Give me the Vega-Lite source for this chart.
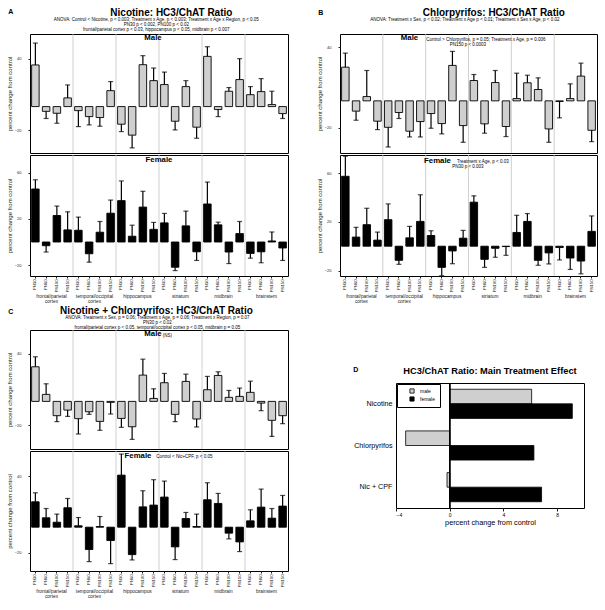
{
"$schema": "https://vega.github.io/schema/vega-lite/v6.json",
"padding": {"left": 6, "top": 7, "right": 0, "bottom": 0},
"background": "white",
"config": {
  "font": "Liberation Sans",
  "view": {"stroke": "black", "strokeWidth": 1},
  "axis": {"grid": false, "domain": false, "labelFontSize": 4, "labelColor": "#222", "titleFontSize": 6, "titleFontWeight": "normal", "titleColor": "#222", "tickColor": "#222", "tickSize": 2, "labelPadding": 1},
  "axisY": {"labelPadding": 7, "titlePadding": 1.5},
  "title": {"color": "black", "subtitleColor": "black", "font": "Liberation Sans", "subtitleFont": "Liberation Sans"}
},
"datasets": {
  "regions": [{"region": "frontal/parietal cortex"}, {"region": "temporal/occipital cortex"}, {"region": "hippocampus"}, {"region": "striatum"}, {"region": "midbrain"}, {"region": "brainstem"}],
  "A": [
    {"sex":"M","bar":"fp PN30","v":35,"e":53.4},{"sex":"M","bar":"fp PN60","v":-4,"e":-10},{"sex":"M","bar":"fp PN100","v":-5.6,"e":-14},{"sex":"M","bar":"fp PN150","v":7.3,"e":18.2},
    {"sex":"M","bar":"to PN30","v":-3.4,"e":-16.8},{"sex":"M","bar":"to PN60","v":-8.4,"e":-15.4},{"sex":"M","bar":"to PN100","v":-9.2,"e":-16.5},{"sex":"M","bar":"to PN150","v":13.4,"e":21},
    {"sex":"M","bar":"hc PN30","v":-14.8,"e":-21},{"sex":"M","bar":"hc PN60","v":-24,"e":-34.7},{"sex":"M","bar":"hc PN100","v":35.2,"e":42.8},{"sex":"M","bar":"hc PN150","v":21.8,"e":32.4},
    {"sex":"M","bar":"st PN30","v":18.5,"e":29},{"sex":"M","bar":"st PN60","v":-12.3,"e":-19.6},{"sex":"M","bar":"st PN100","v":16.8,"e":21.8},{"sex":"M","bar":"st PN150","v":-17.3,"e":-26.6},
    {"sex":"M","bar":"mb PN30","v":42.2,"e":50.3},{"sex":"M","bar":"mb PN60","v":-2.5,"e":-8.4},{"sex":"M","bar":"mb PN100","v":12.9,"e":16},{"sex":"M","bar":"mb PN150","v":22.7,"e":40.3},
    {"sex":"M","bar":"bs PN30","v":10,"e":16.8},{"sex":"M","bar":"bs PN60","v":12.6,"e":23.5},{"sex":"M","bar":"bs PN100","v":1.7,"e":12.9},{"sex":"M","bar":"bs PN150","v":-5.9,"e":-10},
    {"sex":"F","bar":"fp PN30","v":46,"e":54},{"sex":"F","bar":"fp PN60","v":-3.2,"e":-8.7},{"sex":"F","bar":"fp PN100","v":23,"e":31.2},{"sex":"F","bar":"fp PN150","v":10.5,"e":26.2},
    {"sex":"F","bar":"to PN30","v":10.2,"e":21.6},{"sex":"F","bar":"to PN60","v":-10.2,"e":-17.5},{"sex":"F","bar":"to PN100","v":8.5,"e":17.8},{"sex":"F","bar":"to PN150","v":25,"e":36.4},
    {"sex":"F","bar":"hc PN30","v":35.9,"e":53},{"sex":"F","bar":"hc PN60","v":5,"e":14.6},{"sex":"F","bar":"hc PN100","v":30.3,"e":44},{"sex":"F","bar":"hc PN150","v":11,"e":17},
    {"sex":"F","bar":"st PN30","v":16.6,"e":24.8},{"sex":"F","bar":"st PN60","v":-21.9,"e":-24.8},{"sex":"F","bar":"st PN100","v":14,"e":26.8},{"sex":"F","bar":"st PN150","v":-8.5,"e":-16},
    {"sex":"F","bar":"mb PN30","v":33,"e":52},{"sex":"F","bar":"mb PN60","v":14.9,"e":17.2},{"sex":"F","bar":"mb PN100","v":-8.7,"e":-18.7},{"sex":"F","bar":"mb PN150","v":7.3,"e":17.8},
    {"sex":"F","bar":"bs PN30","v":-9.9,"e":-14},{"sex":"F","bar":"bs PN60","v":-8.5,"e":-18},{"sex":"F","bar":"bs PN100","v":0.9,"e":8.7},{"sex":"F","bar":"bs PN150","v":-5.2,"e":-16}
  ],
  "B": [
    {"sex":"M","bar":"fp PN30","v":25.2,"e":35.7},{"sex":"M","bar":"fp PN60","v":-7.7,"e":-14.5},{"sex":"M","bar":"fp PN100","v":3.2,"e":22.7},{"sex":"M","bar":"fp PN150","v":-15.2,"e":-21.5},
    {"sex":"M","bar":"to PN30","v":-19.8,"e":-34.5},{"sex":"M","bar":"to PN60","v":-8.7,"e":-13.2},{"sex":"M","bar":"to PN100","v":-22.7,"e":-27},{"sex":"M","bar":"to PN150","v":-15.5,"e":-27},
    {"sex":"M","bar":"hc PN30","v":-9.5,"e":-20.5},{"sex":"M","bar":"hc PN60","v":-17,"e":-24.7},{"sex":"M","bar":"hc PN100","v":26.5,"e":37},{"sex":"M","bar":"hc PN150","v":-18.5,"e":-31},
    {"sex":"M","bar":"st PN30","v":15.2,"e":19.7},{"sex":"M","bar":"st PN60","v":-17.2,"e":-24.2},{"sex":"M","bar":"st PN100","v":13.7,"e":22.7},{"sex":"M","bar":"st PN150","v":-19.2,"e":-26.7},
    {"sex":"M","bar":"mb PN30","v":1.7,"e":20.7},{"sex":"M","bar":"mb PN60","v":13.5,"e":19.2},{"sex":"M","bar":"mb PN100","v":8.5,"e":17.2},{"sex":"M","bar":"mb PN150","v":-21,"e":-31},
    {"sex":"M","bar":"bs PN30","v":-0.5,"e":-12.7},{"sex":"M","bar":"bs PN60","v":1.7,"e":12.7},{"sex":"M","bar":"bs PN100","v":18.5,"e":28.2},{"sex":"M","bar":"bs PN150","v":-22,"e":-30.5},
    {"sex":"F","bar":"fp PN30","v":57.5,"e":74},{"sex":"F","bar":"fp PN60","v":7.5,"e":15.5},{"sex":"F","bar":"fp PN100","v":17.7,"e":31.2},{"sex":"F","bar":"fp PN150","v":5,"e":11.6},
    {"sex":"F","bar":"to PN30","v":21.8,"e":34.8},{"sex":"F","bar":"to PN60","v":-11.6,"e":-14.9},{"sex":"F","bar":"to PN100","v":6.9,"e":16.3},{"sex":"F","bar":"to PN150","v":20.4,"e":42.3},
    {"sex":"F","bar":"hc PN30","v":8.8,"e":12.7},{"sex":"F","bar":"hc PN60","v":-17.4,"e":-24.3},{"sex":"F","bar":"hc PN100","v":-3.9,"e":-14.4},{"sex":"F","bar":"hc PN150","v":6.6,"e":13},
    {"sex":"F","bar":"st PN30","v":36.2,"e":41.4},{"sex":"F","bar":"st PN60","v":-10.8,"e":-17.4},{"sex":"F","bar":"st PN100","v":-1.7,"e":-9.1},{"sex":"F","bar":"st PN150","v":-0.3,"e":-7.5},
    {"sex":"F","bar":"mb PN30","v":11.3,"e":25.4},{"sex":"F","bar":"mb PN60","v":20.4,"e":26.8},{"sex":"F","bar":"mb PN100","v":-11.6,"e":-15.7},{"sex":"F","bar":"mb PN150","v":-5.5,"e":-14.6},
    {"sex":"F","bar":"bs PN30","v":-1.1,"e":-11.3},{"sex":"F","bar":"bs PN60","v":-9.7,"e":-19.1},{"sex":"F","bar":"bs PN100","v":-12.2,"e":-22.7},{"sex":"F","bar":"bs PN150","v":12.2,"e":24.9}
  ],
  "C": [
    {"sex":"M","bar":"fp PN30","v":29.1,"e":37.5},{"sex":"M","bar":"fp PN60","v":5.9,"e":14.8},{"sex":"M","bar":"fp PN100","v":-12,"e":-17},{"sex":"M","bar":"fp PN150","v":-7.3,"e":-12.6},
    {"sex":"M","bar":"to PN30","v":-14.5,"e":-27.4},{"sex":"M","bar":"to PN60","v":-8.7,"e":-10.9},{"sex":"M","bar":"to PN100","v":-16.8,"e":-24.3},{"sex":"M","bar":"to PN150","v":-0.8,"e":-10.6},
    {"sex":"M","bar":"hc PN30","v":-14.3,"e":-21.8},{"sex":"M","bar":"hc PN60","v":-21.3,"e":-31.9},{"sex":"M","bar":"hc PN100","v":22.1,"e":35.5},{"sex":"M","bar":"hc PN150","v":2.5,"e":10.6},
    {"sex":"M","bar":"st PN30","v":15.7,"e":23.5},{"sex":"M","bar":"st PN60","v":-10.9,"e":-17},{"sex":"M","bar":"st PN100","v":16.8,"e":22.9},{"sex":"M","bar":"st PN150","v":-14.8,"e":-21.5},
    {"sex":"M","bar":"mb PN30","v":9.8,"e":21},{"sex":"M","bar":"mb PN60","v":21.8,"e":24.9},{"sex":"M","bar":"mb PN100","v":3.4,"e":9.2},{"sex":"M","bar":"mb PN150","v":4.2,"e":11.2},
    {"sex":"M","bar":"bs PN30","v":7.6,"e":17},{"sex":"M","bar":"bs PN60","v":-1.4,"e":-7.8},{"sex":"M","bar":"bs PN100","v":-15.9,"e":-29.4},{"sex":"M","bar":"bs PN150","v":-12,"e":-18.7},
    {"sex":"F","bar":"fp PN30","v":20,"e":27.1},{"sex":"F","bar":"fp PN60","v":7.4,"e":14.7},{"sex":"F","bar":"fp PN100","v":3.9,"e":10.3},{"sex":"F","bar":"fp PN150","v":15.3,"e":22.6},
    {"sex":"F","bar":"to PN30","v":1.1,"e":7.6},{"sex":"F","bar":"to PN60","v":-17.6,"e":-27.1},{"sex":"F","bar":"to PN100","v":0.5,"e":8.4},{"sex":"F","bar":"to PN150","v":-10.5,"e":-28.7},
    {"sex":"F","bar":"hc PN30","v":41,"e":57.6},{"sex":"F","bar":"hc PN60","v":-21.6,"e":-25.8},{"sex":"F","bar":"hc PN100","v":16,"e":28.7},{"sex":"F","bar":"hc PN150","v":17.4,"e":37.4},
    {"sex":"F","bar":"st PN30","v":23.7,"e":36.3},{"sex":"F","bar":"st PN60","v":-15.5,"e":-25.5},{"sex":"F","bar":"st PN100","v":6.8,"e":11.6},{"sex":"F","bar":"st PN150","v":0.5,"e":10.3},
    {"sex":"F","bar":"mb PN30","v":21.6,"e":35},{"sex":"F","bar":"mb PN60","v":18.7,"e":26.6},{"sex":"F","bar":"mb PN100","v":-4.7,"e":-9.2},{"sex":"F","bar":"mb PN150","v":-11.6,"e":-19.2},
    {"sex":"F","bar":"bs PN30","v":5,"e":13.7},{"sex":"F","bar":"bs PN60","v":15.8,"e":30},{"sex":"F","bar":"bs PN100","v":7.1,"e":14.7},{"sex":"F","bar":"bs PN150","v":16.6,"e":25}
  ],
  "D": [
    {"treatment":"Nicotine","sex":"male","v":6.1},{"treatment":"Nicotine","sex":"female","v":9.13},
    {"treatment":"Chlorpyrifos","sex":"male","v":-3.28},{"treatment":"Chlorpyrifos","sex":"female","v":6.27},
    {"treatment":"Nic + CPF","sex":"male","v":-0.2},{"treatment":"Nic + CPF","sex":"female","v":6.84}
  ]
},
"spacing": 1,
"resolve": {"scale": {"fill": "independent"}, "legend": {"fill": "independent"}},
"vconcat": [
 {"spacing": 27, "hconcat": [
  {"title": {"text": "A", "anchor": "start", "fontSize": 7, "fontWeight": "bold", "offset": -7, "dx": 2},
   "vconcat": [{
    "title": {"text": "Nicotine:  HC3/ChAT Ratio", "anchor": "middle", "fontSize": 10, "fontWeight": "bold", "dx": 24, "offset": -1},
    "vconcat": [{
     "title": {"text": ["ANOVA:  Control < Nicotine, p < 0.003; Treatment x Age, p < 0.003; Treatment x Age x Region, p < 0.05", "PN30 p < 0.002, PN100 p < 0.02", "frontal/parietal cortex p < 0.03, hippocampus p < 0.05, midbrain p < 0.007"], "anchor": "middle", "dx": 9, "fontSize": 4.5, "fontWeight": "normal", "lineHeight": 5, "offset": 2},
     "spacing": 0,
     "vconcat": [
      {"width": 258, "height": 119,
       "title": {"text": "Male", "fontSize": 7.8, "fontWeight": "bold", "offset": -8, "dx": -6, "frame": "group", "anchor": "middle"},
       "layer": [
        {"data": {"name": "regions"}, "transform": [{"filter": "datum.region != 'frontal/parietal cortex'"}],
         "mark": {"type": "rule", "color": "#c4c4c4", "strokeWidth": 0.8},
         "encoding": {"x": {"field": "region", "type": "nominal", "bandPosition": 0, "scale": {"type": "band", "domain": ["frontal/parietal cortex","temporal/occipital cortex","hippocampus","striatum","midbrain","brainstem"], "paddingInner": 0, "paddingOuter": 0}, "axis": null}}},
        {"data": {"name": "A"}, "transform": [{"filter": "datum.sex == 'M'"}],
         "encoding": {"x": {"field": "bar", "type": "nominal", "sort": null, "scale": {"type": "band", "paddingInner": 0.3, "paddingOuter": 0.15}, "axis": null}},
         "layer": [
          {"mark": {"type": "bar", "fill": "#cfcfcf", "stroke": "black", "strokeWidth": 0.9},
           "encoding": {"y": {"field": "v", "type": "quantitative", "scale": {"domain": [-39, 61], "nice": false}, "axis": {"title": "percent change from control", "values": [-20, 0, 20, 40]}}}},
          {"mark": {"type": "rule", "color": "black", "strokeWidth": 1.2}, "encoding": {"y": {"field": "v", "type": "quantitative"}, "y2": {"field": "e"}}},
          {"mark": {"type": "tick", "orient": "horizontal", "size": 5, "thickness": 1.2, "color": "black"}, "encoding": {"y": {"field": "e", "type": "quantitative"}}}
         ]}
       ],
       "resolve": {"scale": {"x": "independent"}, "axis": {"x": "independent"}}},
      {"width": 258, "height": 121,
       "title": {"text": "Female", "fontSize": 7.8, "fontWeight": "bold", "offset": -9, "frame": "group", "anchor": "middle"},
       "layer": [
        {"data": {"name": "regions"}, "transform": [{"filter": "datum.region != 'frontal/parietal cortex'"}],
         "mark": {"type": "rule", "color": "#c4c4c4", "strokeWidth": 0.8},
         "encoding": {"x": {"field": "region", "type": "nominal", "bandPosition": 0, "scale": {"type": "band", "domain": ["frontal/parietal cortex","temporal/occipital cortex","hippocampus","striatum","midbrain","brainstem"], "paddingInner": 0, "paddingOuter": 0}, "axis": {"orient": "bottom", "offset": 16, "ticks": false, "domain": false, "title": null, "labelAngle": 0, "labelFontSize": 4.8, "labelLineHeight": 5, "labelPadding": 1, "labelExpr": "datum.value == 'frontal/parietal cortex' ? ['frontal/parietal', 'cortex'] : datum.value == 'temporal/occipital cortex' ? ['temporal/occipital', 'cortex'] : datum.value"}}}},
        {"data": {"name": "A"}, "transform": [{"filter": "datum.sex == 'F'"}],
         "encoding": {"x": {"field": "bar", "type": "nominal", "sort": null, "scale": {"type": "band", "paddingInner": 0.3, "paddingOuter": 0.15}, "axis": {"orient": "bottom", "title": null, "labelAngle": 270, "labelFontSize": 4.2, "labelPadding": 1, "labelExpr": "split(datum.value, ' ')[1]"}}},
         "layer": [
          {"mark": {"type": "bar", "fill": "black", "stroke": "black", "strokeWidth": 0.9},
           "encoding": {"y": {"field": "v", "type": "quantitative", "scale": {"domain": [-29.5, 75.5], "nice": false}, "axis": {"title": "percent change from control", "values": [-20, 0, 20, 40, 60]}}}},
          {"mark": {"type": "rule", "color": "black", "strokeWidth": 1.2}, "encoding": {"y": {"field": "v", "type": "quantitative"}, "y2": {"field": "e"}}},
          {"mark": {"type": "tick", "orient": "horizontal", "size": 5, "thickness": 1.2, "color": "black"}, "encoding": {"y": {"field": "e", "type": "quantitative"}}}
         ]}
       ],
       "resolve": {"scale": {"x": "independent"}, "axis": {"x": "independent"}}}
     ]}]
   }]},
  {"title": {"text": "B", "anchor": "start", "fontSize": 7, "fontWeight": "bold", "offset": -8, "dx": 2},
   "vconcat": [{
    "title": {"text": "Chlorpyrifos:  HC3/ChAT Ratio", "anchor": "middle", "fontSize": 10, "fontWeight": "bold", "dx": 37, "offset": -1},
    "vconcat": [{
     "title": {"text": ["ANOVA:  Treatment x Sex, p < 0.02; Treatment x Age p < 0.01; Treatment x Sex x Age, p < 0.02", " ", " "], "anchor": "middle", "dx": 8, "fontSize": 4.5, "fontWeight": "normal", "lineHeight": 5, "offset": 2},
     "spacing": 0,
     "vconcat": [
      {"title": {"text": "PN150 p < 0.0003", "anchor": "middle", "dx": 11, "fontSize": 4.5, "fontWeight": "normal", "offset": -13},
       "vconcat": [{
        "title": {"text": "Control > Chlorpyrifos, p = 0.05; Treatment x Age, p = 0.006", "anchor": "middle", "dx": 29, "fontSize": 4.5, "fontWeight": "normal", "offset": -8},
        "vconcat": [{
         "width": 257, "height": 119,
         "title": {"text": "Male", "fontSize": 7.8, "fontWeight": "bold", "offset": -8, "dx": -59, "frame": "group", "anchor": "middle"},
         "layer": [
          {"data": {"name": "regions"}, "transform": [{"filter": "datum.region != 'frontal/parietal cortex'"}],
           "mark": {"type": "rule", "color": "#c4c4c4", "strokeWidth": 0.8},
           "encoding": {"x": {"field": "region", "type": "nominal", "bandPosition": 0, "scale": {"type": "band", "domain": ["frontal/parietal cortex","temporal/occipital cortex","hippocampus","striatum","midbrain","brainstem"], "paddingInner": 0, "paddingOuter": 0}, "axis": null}}},
          {"data": {"name": "B"}, "transform": [{"filter": "datum.sex == 'M'"}],
           "encoding": {"x": {"field": "bar", "type": "nominal", "sort": null, "scale": {"type": "band", "paddingInner": 0.3, "paddingOuter": 0.15}, "axis": null}},
           "layer": [
            {"mark": {"type": "bar", "fill": "#cfcfcf", "stroke": "black", "strokeWidth": 0.9},
             "encoding": {"y": {"field": "v", "type": "quantitative", "scale": {"domain": [-39, 50], "nice": false}, "axis": {"title": "percent change from control", "values": [-20, 0, 20, 40]}}}},
            {"mark": {"type": "rule", "color": "black", "strokeWidth": 1.2}, "encoding": {"y": {"field": "v", "type": "quantitative"}, "y2": {"field": "e"}}},
            {"mark": {"type": "tick", "orient": "horizontal", "size": 5, "thickness": 1.2, "color": "black"}, "encoding": {"y": {"field": "e", "type": "quantitative"}}}
           ]}
         ],
         "resolve": {"scale": {"x": "independent"}, "axis": {"x": "independent"}}}]}]},
      {"title": {"text": "PN30 p < 0.003", "anchor": "middle", "dx": 11, "fontSize": 4.5, "fontWeight": "normal", "offset": -14},
       "vconcat": [{
        "title": {"text": "Treatment x Age, p < 0.03", "anchor": "middle", "dx": 26, "fontSize": 4.5, "fontWeight": "normal", "offset": -9},
        "vconcat": [{
         "width": 257, "height": 121,
         "title": {"text": "Female", "fontSize": 7.8, "fontWeight": "bold", "offset": -10, "dx": -31, "frame": "group", "anchor": "middle"},
         "layer": [
          {"data": {"name": "regions"}, "transform": [{"filter": "datum.region != 'frontal/parietal cortex'"}],
           "mark": {"type": "rule", "color": "#c4c4c4", "strokeWidth": 0.8},
           "encoding": {"x": {"field": "region", "type": "nominal", "bandPosition": 0, "scale": {"type": "band", "domain": ["frontal/parietal cortex","temporal/occipital cortex","hippocampus","striatum","midbrain","brainstem"], "paddingInner": 0, "paddingOuter": 0}, "axis": {"orient": "bottom", "offset": 16, "ticks": false, "domain": false, "title": null, "labelAngle": 0, "labelFontSize": 4.8, "labelLineHeight": 5, "labelPadding": 1, "labelExpr": "datum.value == 'frontal/parietal cortex' ? ['frontal/parietal', 'cortex'] : datum.value == 'temporal/occipital cortex' ? ['temporal/occipital', 'cortex'] : datum.value"}}}},
          {"data": {"name": "B"}, "transform": [{"filter": "datum.sex == 'F'"}],
           "encoding": {"x": {"field": "bar", "type": "nominal", "sort": null, "scale": {"type": "band", "paddingInner": 0.3, "paddingOuter": 0.15}, "axis": {"orient": "bottom", "title": null, "labelAngle": 270, "labelFontSize": 4.2, "labelPadding": 1, "labelExpr": "split(datum.value, ' ')[1]"}}},
           "layer": [
            {"mark": {"type": "bar", "fill": "black", "stroke": "black", "strokeWidth": 0.9},
             "encoding": {"y": {"field": "v", "type": "quantitative", "scale": {"domain": [-24.5, 75], "nice": false}, "axis": {"title": "percent change from control", "values": [-20, 0, 20, 40, 60]}}}},
            {"mark": {"type": "rule", "color": "black", "strokeWidth": 1.2}, "encoding": {"y": {"field": "v", "type": "quantitative"}, "y2": {"field": "e"}}},
            {"mark": {"type": "tick", "orient": "horizontal", "size": 5, "thickness": 1.2, "color": "black"}, "encoding": {"y": {"field": "e", "type": "quantitative"}}}
           ]}
         ],
         "resolve": {"scale": {"x": "independent"}, "axis": {"x": "independent"}}}]}]}
     ]}]
   }]}
 ]},
 {"spacing": 64, "resolve": {"scale": {"fill": "independent"}, "legend": {"fill": "independent"}}, "hconcat": [
  {"title": {"text": "C", "anchor": "start", "fontSize": 7, "fontWeight": "bold", "offset": -9, "dx": 2},
   "vconcat": [{
    "title": {"text": "Nicotine + Chlorpyrifos:  HC3/ChAT Ratio", "anchor": "middle", "fontSize": 10, "fontWeight": "bold", "dx": 9, "offset": -1},
    "vconcat": [{
     "title": {"text": ["ANOVA:  Treatment x Sex, p = 0.06; Treatment x Age, p = 0.06; Treatment x Region, p = 0.07", "PN30 p < 0.02", "frontal/parietal cortex p < 0.05, temporal/occipital cortex p < 0.05, midbrain p = 0.05"], "anchor": "middle", "dx": 10, "fontSize": 4.5, "fontWeight": "normal", "lineHeight": 5, "offset": 0},
     "spacing": 0,
     "vconcat": [
      {"title": {"text": "(NS)", "anchor": "middle", "dx": 20, "fontSize": 4.5, "fontWeight": "normal", "offset": -8},
       "vconcat": [{
        "width": 258, "height": 119,
        "title": {"text": "Male", "fontSize": 7.8, "fontWeight": "bold", "offset": -8, "dx": -6, "frame": "group", "anchor": "middle"},
        "layer": [
         {"data": {"name": "regions"}, "transform": [{"filter": "datum.region != 'frontal/parietal cortex'"}],
          "mark": {"type": "rule", "color": "#c4c4c4", "strokeWidth": 0.8},
          "encoding": {"x": {"field": "region", "type": "nominal", "bandPosition": 0, "scale": {"type": "band", "domain": ["frontal/parietal cortex","temporal/occipital cortex","hippocampus","striatum","midbrain","brainstem"], "paddingInner": 0, "paddingOuter": 0}, "axis": null}}},
         {"data": {"name": "C"}, "transform": [{"filter": "datum.sex == 'M'"}],
          "encoding": {"x": {"field": "bar", "type": "nominal", "sort": null, "scale": {"type": "band", "paddingInner": 0.3, "paddingOuter": 0.15}, "axis": null}},
          "layer": [
           {"mark": {"type": "bar", "fill": "#cfcfcf", "stroke": "black", "strokeWidth": 0.9},
            "encoding": {"y": {"field": "v", "type": "quantitative", "scale": {"domain": [-40, 60], "nice": false}, "axis": {"title": "percent change from control", "values": [-20, 0, 20, 40]}}}},
           {"mark": {"type": "rule", "color": "black", "strokeWidth": 1.2}, "encoding": {"y": {"field": "v", "type": "quantitative"}, "y2": {"field": "e"}}},
           {"mark": {"type": "tick", "orient": "horizontal", "size": 5, "thickness": 1.2, "color": "black"}, "encoding": {"y": {"field": "e", "type": "quantitative"}}}
          ]}
        ],
        "resolve": {"scale": {"x": "independent"}, "axis": {"x": "independent"}}}]},
      {"title": {"text": "Control < Nic+CPF, p < 0.05", "anchor": "middle", "dx": 37, "fontSize": 4.5, "fontWeight": "normal", "offset": -8},
       "vconcat": [{
        "width": 258, "height": 120,
        "title": {"text": "Female", "fontSize": 7.8, "fontWeight": "bold", "offset": -9, "dx": -21, "frame": "group", "anchor": "middle"},
        "layer": [
         {"data": {"name": "regions"}, "transform": [{"filter": "datum.region != 'frontal/parietal cortex'"}],
          "mark": {"type": "rule", "color": "#c4c4c4", "strokeWidth": 0.8},
          "encoding": {"x": {"field": "region", "type": "nominal", "bandPosition": 0, "scale": {"type": "band", "domain": ["frontal/parietal cortex","temporal/occipital cortex","hippocampus","striatum","midbrain","brainstem"], "paddingInner": 0, "paddingOuter": 0}, "axis": {"orient": "bottom", "offset": 16, "ticks": false, "domain": false, "title": null, "labelAngle": 0, "labelFontSize": 4.8, "labelLineHeight": 5, "labelPadding": 1, "labelExpr": "datum.value == 'frontal/parietal cortex' ? ['frontal/parietal', 'cortex'] : datum.value == 'temporal/occipital cortex' ? ['temporal/occipital', 'cortex'] : datum.value"}}}},
         {"data": {"name": "C"}, "transform": [{"filter": "datum.sex == 'F'"}],
          "encoding": {"x": {"field": "bar", "type": "nominal", "sort": null, "scale": {"type": "band", "paddingInner": 0.3, "paddingOuter": 0.15}, "axis": {"orient": "bottom", "title": null, "labelAngle": 270, "labelFontSize": 4.2, "labelPadding": 1, "labelExpr": "split(datum.value, ' ')[1]"}}},
          "layer": [
           {"mark": {"type": "bar", "fill": "black", "stroke": "black", "strokeWidth": 0.9},
            "encoding": {"y": {"field": "v", "type": "quantitative", "scale": {"domain": [-34.5, 60], "nice": false}, "axis": {"title": "percent change from control", "values": [-20, 0, 20, 40]}}}},
           {"mark": {"type": "rule", "color": "black", "strokeWidth": 1.2}, "encoding": {"y": {"field": "v", "type": "quantitative"}, "y2": {"field": "e"}}},
           {"mark": {"type": "tick", "orient": "horizontal", "size": 5, "thickness": 1.2, "color": "black"}, "encoding": {"y": {"field": "e", "type": "quantitative"}}}
          ]}
        ],
        "resolve": {"scale": {"x": "independent"}, "axis": {"x": "independent"}}}]}
     ]}]
   }]},
  {"title": {"text": "D", "anchor": "start", "fontSize": 7, "fontWeight": "bold", "offset": -43},
   "resolve": {"scale": {"fill": "independent"}, "legend": {"fill": "independent"}},
   "spacing": 0,
   "vconcat": [
    {"width": 10, "height": 36, "data": {"values": []}, "mark": "point", "encoding": {}, "view": {"stroke": null}},
    {"title": {"text": "HC3/ChAT Ratio: Main Treatment Effect", "anchor": "middle", "frame": "group", "fontSize": 9.3, "fontWeight": "bold", "offset": 6},
     "width": 188, "height": 125,
     "data": {"name": "D"},
     "layer": [
      {"mark": {"type": "bar", "stroke": "black", "strokeWidth": 0.8},
       "encoding": {
        "y": {"field": "treatment", "type": "nominal", "sort": null, "scale": {"paddingInner": 0.3, "paddingOuter": 0.15}, "axis": {"title": null, "ticks": false, "labelFontSize": 7.2, "labelPadding": 4, "labelColor": "black"}},
        "yOffset": {"field": "sex", "type": "nominal", "sort": ["male", "female"], "scale": {"paddingInner": 0, "paddingOuter": 0}},
        "x": {"field": "v", "type": "quantitative", "scale": {"domain": [-4, 10], "nice": false}, "axis": {"values": [-4, -2, 0, 2, 4, 6, 8, 10], "title": "percent change from control", "titleFontSize": 7.3, "titleColor": "black", "labelColor": "black", "labelFontSize": 5, "tickSize": 3, "titlePadding": 1}},
        "fill": {"field": "sex", "type": "nominal", "scale": {"domain": ["male", "female"], "range": ["#cfcfcf", "black"]}, "legend": {"orient": "top-left", "title": null, "strokeColor": "black", "fillColor": "white", "padding": 4, "offset": 1, "labelFontSize": 5, "labelColor": "black", "symbolType": "square", "symbolSize": 18, "symbolStrokeColor": "black", "symbolStrokeWidth": 0.8, "symbolOffset": 8, "rowPadding": 0, "labelOffset": 5}}
       }},
      {"mark": {"type": "rule", "color": "black", "strokeWidth": 1}, "encoding": {"x": {"datum": 0}}}
     ]}
   ]}
 ]}
]
}
